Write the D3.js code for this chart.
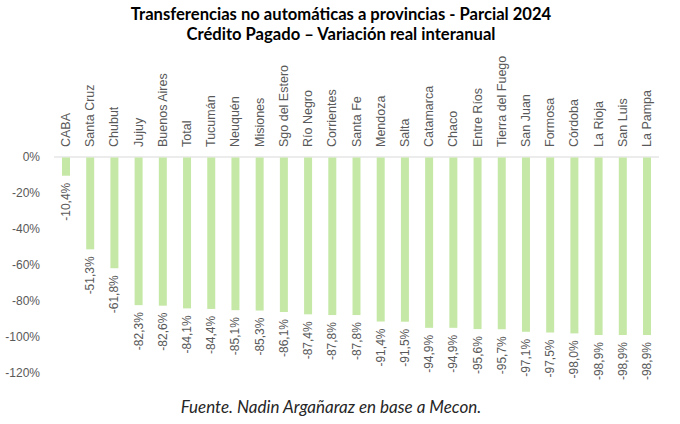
<!DOCTYPE html>
<html>
<head>
<meta charset="utf-8">
<script src="https://cdn.jsdelivr.net/npm/d3@7"></script>
<style>
  body { margin: 0; background: #fff; }
  svg { display: block; }
  .axis text { font-family: "Liberation Sans", Arial, sans-serif; font-size: 12px; fill: #595959; }
  .title { font-family: Lato, "Open Sans", sans-serif; font-weight: bold; font-size: 16.6px; fill: #000; }
  .source { font-family: Lato, "Open Sans", sans-serif; font-style: italic; font-size: 17px; fill: #262626; }
</style>
</head>
<body>
<script>
// Provincias, ordenadas como en el grafico
var provincias = ["CABA", "Santa Cruz", "Chubut", "Jujuy", "Buenos Aires", "Total",
  "Tucumán", "Neuquén", "Misiones", "Sgo del Estero", "Río Negro", "Corrientes",
  "Santa Fe", "Mendoza", "Salta", "Catamarca", "Chaco", "Entre Ríos",
  "Tierra del Fuego", "San Juan", "Formosa", "Córdoba", "La Rioja", "San Luis", "La Pampa"];

// Variacion real interanual (%)
var variacion = [-10.4, -51.3, -61.8, -82.3, -82.6, -84.1, -84.4, -85.1, -85.3, -86.1,
  -87.4, -87.8, -87.8, -91.4, -91.5, -94.9, -94.9, -95.6, -95.7, -97.1,
  -97.5, -98.0, -98.9, -98.9, -98.9];

var yTicks = [0, -20, -40, -60, -80, -100, -120];

var titulo = ["Transferencias no automáticas a provincias - Parcial 2024",
  "Crédito Pagado – Variación real interanual"];
var fuente = "Fuente. Nadin Argañaraz en base a Mecon.";

var width = 680, height = 424;
var margin = {left: 54, right: 21, top: 157, bottom: 51};

var svg = d3.select("body").append("svg")
    .attr("width", width)
    .attr("height", height);

var x = d3.scaleBand()
    .domain(provincias)
    .range([margin.left, width - margin.right])
    .paddingInner(0.67)
    .paddingOuter(0.33);

var y = d3.scaleLinear()
    .domain([-120, 0])
    .range([height - margin.bottom, margin.top]);

// Titulo
svg.selectAll(".title")
    .data(titulo)
  .enter().append("text")
    .attr("class", "title")
    .attr("x", 341)
    .attr("y", function(d, i) { return 20 + i * 20; })
    .attr("text-anchor", "middle")
    .text(function(d) { return d; });

// Eje Y
var yAxis = svg.append("g")
    .attr("class", "axis")
    .attr("transform", "translate(" + margin.left + ",0)")
    .call(d3.axisLeft(y).tickValues(yTicks).tickSize(0).tickPadding(14)
      .tickFormat(function(d) { return d + "%"; }));
yAxis.select(".domain").remove();

// Linea del cero
svg.append("line")
    .attr("x1", margin.left)
    .attr("x2", width - margin.right)
    .attr("y1", y(0))
    .attr("y2", y(0))
    .attr("stroke", "#d9d9d9")
    .attr("stroke-width", 1);

// Barras
svg.selectAll(".bar")
    .data(variacion)
  .enter().append("rect")
    .attr("class", "bar")
    .attr("x", function(d, i) { return x(provincias[i]); })
    .attr("width", x.bandwidth())
    .attr("y", y(0) + 0.5)
    .attr("height", function(d) { return y(d) - y(0) - 0.5; })
    .attr("fill", "#c5e8a6");

// Etiquetas de categoria (rotadas, arriba)
var cat = svg.append("g").attr("class", "axis");
cat.selectAll("text")
    .data(provincias)
  .enter().append("text")
    .attr("transform", function(d) {
      return "translate(" + (x(d) + x.bandwidth() / 2 + 4) + "," + (y(0) - 10) + ") rotate(-90)";
    })
    .attr("text-anchor", "start")
    .style("font-size", "12.5px")
    .text(function(d) { return d; });

// Etiquetas de valor (rotadas, bajo cada barra)
var fmt = function(d) { return d.toFixed(1).replace(".", ",") + "%"; };
var val = svg.append("g").attr("class", "axis");
val.selectAll("text")
    .data(variacion)
  .enter().append("text")
    .attr("transform", function(d, i) {
      return "translate(" + (x(provincias[i]) + x.bandwidth() / 2 + 4) + "," + (y(d) + 7) + ") rotate(-90)";
    })
    .attr("text-anchor", "end")
    .text(fmt);

// Fuente
svg.append("text")
    .attr("class", "source")
    .attr("x", 331)
    .attr("y", 413)
    .attr("text-anchor", "middle")
    .text(fuente);
</script>
</body>
</html>
